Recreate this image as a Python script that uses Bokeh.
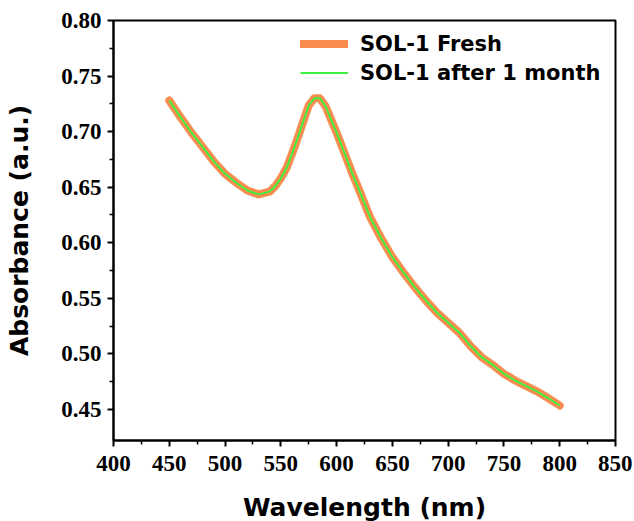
from bokeh.plotting import figure
from bokeh.models import Range1d, FixedTicker, Legend, LegendItem, NumeralTickFormatter
from bokeh.embed import file_html
from bokeh.resources import INLINE

# ---- data ----
wavelength = [450, 460, 470, 480, 490, 500, 510, 520, 530, 540, 545, 550, 555, 560, 565,
              570, 575, 580, 585, 590, 595, 600, 605, 610, 615, 620, 630, 640, 650, 660,
              670, 680, 690, 700, 710, 720, 730, 740, 750, 760, 770, 780, 790, 800]
sol1_fresh = [0.728, 0.713, 0.699, 0.686, 0.673, 0.662, 0.654, 0.647, 0.6435, 0.646,
              0.651, 0.658, 0.667, 0.680, 0.694, 0.709, 0.7235, 0.730, 0.730, 0.723,
              0.711, 0.699, 0.686, 0.673, 0.660, 0.648, 0.623, 0.604, 0.587, 0.573,
              0.560, 0.548, 0.537, 0.528, 0.519, 0.507, 0.497, 0.490, 0.482, 0.476,
              0.471, 0.466, 0.460, 0.4535]
sol1_after_1_month = [0.728, 0.713, 0.699, 0.686, 0.673, 0.662, 0.654, 0.647, 0.6435, 0.646,
                      0.651, 0.658, 0.667, 0.680, 0.694, 0.709, 0.7235, 0.730, 0.730, 0.723,
                      0.711, 0.699, 0.686, 0.673, 0.660, 0.648, 0.623, 0.604, 0.587, 0.573,
                      0.560, 0.548, 0.537, 0.528, 0.519, 0.507, 0.497, 0.490, 0.482, 0.476,
                      0.471, 0.466, 0.460, 0.4535]

x_ticks = [400, 450, 500, 550, 600, 650, 700, 750, 800, 850]
y_ticks = [0.45, 0.50, 0.55, 0.60, 0.65, 0.70, 0.75, 0.80]
series_labels = ["SOL-1 Fresh", "SOL-1 after 1 month"]

ORANGE = "#F98C4E"
GREEN = "#3FF03F"

x_minor = [(a + b) / 2 for a, b in zip(x_ticks[:-1], x_ticks[1:])]
y_minor = [(a + b) / 2 for a, b in zip(y_ticks[:-1], y_ticks[1:])]

p = figure(frame_width=502, frame_height=420,
           min_border_left=113, min_border_right=17, min_border_top=20, min_border_bottom=78,
           x_range=Range1d(400, 850), y_range=Range1d(0.422, 0.80),
           output_backend="svg", toolbar_location=None)

p.background_fill_color = "white"
p.border_fill_color = "white"
p.outline_line_color = "black"
p.outline_line_width = 2
p.xgrid.visible = False
p.ygrid.visible = False

r1 = p.line(wavelength, sol1_fresh, line_color=ORANGE, line_width=8,
            line_cap="round", line_join="round")
r2 = p.line(wavelength, sol1_after_1_month, line_color=GREEN, line_width=2,
            line_join="round")

p.xaxis.ticker = FixedTicker(ticks=x_ticks, minor_ticks=x_minor)
p.yaxis.ticker = FixedTicker(ticks=y_ticks, minor_ticks=y_minor)
p.yaxis.formatter = NumeralTickFormatter(format="0.00")

for ax in (p.xaxis, p.yaxis):
    ax.axis_line_width = 2
    ax.axis_line_color = "black"
    ax.major_tick_line_width = 2
    ax.minor_tick_line_width = 1.5
    ax.major_tick_out = 6
    ax.major_tick_in = 0
    ax.minor_tick_out = 4
    ax.minor_tick_in = 0
    ax.major_label_text_font = "Liberation Serif"
    ax.major_label_text_font_style = "bold"
    ax.major_label_text_font_size = "23px"
    ax.major_label_text_color = "black"
    ax.axis_label_text_font = "DejaVu Sans"
    ax.axis_label_text_font_style = "bold"
    ax.axis_label_text_font_size = "25px"
    ax.axis_label_text_color = "black"

p.xaxis.axis_label = "Wavelength (nm)"
p.yaxis.axis_label = "Absorbance (a.u.)"
p.xaxis.major_label_standoff = 9
p.yaxis.major_label_standoff = 6
p.xaxis.axis_label_standoff = 19
p.yaxis.axis_label_standoff = 24

legend = Legend(items=[LegendItem(label=series_labels[0], renderers=[r1]),
                       LegendItem(label=series_labels[1], renderers=[r2])],
                location=(187, 355), border_line_color=None, background_fill_alpha=0,
                padding=0, margin=0, spacing=4, glyph_width=48, glyph_height=25,
                label_height=25, label_standoff=12,
                label_text_font="DejaVu Sans", label_text_font_style="bold",
                label_text_font_size="21px", label_text_color="black")
p.add_layout(legend)

open("out.html", "w").write(file_html(p, INLINE))
